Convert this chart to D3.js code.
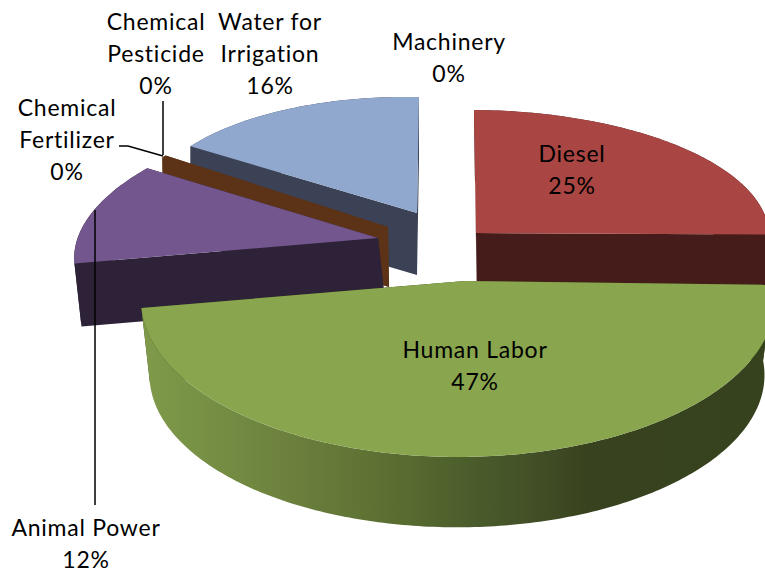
<!DOCTYPE html>
<html>
<head>
<meta charset="utf-8">
<script src="https://cdn.jsdelivr.net/npm/d3@7"></script>
<style>
  html, body { margin: 0; padding: 0; background: #fff; }
  svg { display: block; }
  text { font-family: Lato, "Open Sans", sans-serif; font-size: 23px; letter-spacing: 0.75px; fill: #000; text-anchor: middle; }
</style>
</head>
<body>
<svg id="chart" width="765" height="574"></svg>
<script>
// data, clockwise from 12 o'clock. pesticide is small but has to show its cut face
const categories = ["Diesel", "Human Labor", "Animal Power", "Chemical Fertilizer", "Chemical Pesticide", "Water for Irrigation", "Machinery"];
const values = [25, 47, 12, 0, 0.3, 16, 0];

const labelLines = [["Diesel"], ["Human Labor"], ["Animal Power"], ["Chemical", "Fertilizer"], ["Chemical", "Pesticide"], ["Water for", "Irrigation"], ["Machinery"]];
const labelX = [572, 475, 86, 67, 156, 270, 449];
const labelY = [162, 358, 536, 116, 30, 30, 50];

const topColors = ["#a94542", "#89a54e", "#73568e", "#4198af", "#5c3317", "#91a8ce", "#4f81bd"];
const sideColors = ["#451c19", "#36421e", "#2d2238", "#1f4a55", "#5c3317", "#3b4256", "#263f5c"];

// each slice is pulled out on its own, so every one has its own apex,
// rim centre, north and east radius vectors and a drop for the thickness
const apexes = [[476, 233], [465, 281], [378, 238], [388, 227], [388, 227], [417, 213], [449, 200]];
const centers = [[476, 233], [458, 300], [378, 238], [388, 227], [388, 227], [417, 213], [449, 200]];
const norths = [[-2, -123], [0, -157], [48, -132], [25, -128], [25, -128], [2, -116], [0, -110]];
const easts = [[293, 2], [317, 0], [300, 1], [280, 3], [280, 3], [270, 5], [280, 3]];
const drops = [[1, 72], [-1, 75], [7, 63], [1, 60], [1, 60], [0, 62], [0, 60]];
const tapers = [1, 0.97, 1, 1, 1, 1, 1];
// the front slice's apex sits above its rim centre, so its angles get squeezed
// onto the rim (degrees clockwise from north). null keeps the pie angle
const rimSpans = [null, [84.5, 267.1], null, null, null, null, null];

// leader lines
const leaders = [
  [[163, 101], [163, 155]],
  [[119, 146], [128, 146], [163, 156]],
  [[95, 210], [95, 505]]
];

// back to front
const drawOrder = [6, 5, 4, 3, 2, 0, 1];

const svg = d3.select("#chart");

const pie = d3.pie().sort(null).value(d => d)(values);
const total = d3.sum(values);

const grad = svg.append("defs").append("linearGradient")
  .attr("id", "rimGreen")
  .attr("gradientUnits", "userSpaceOnUse")
  .attr("x1", 142).attr("x2", 765).attr("y1", 0).attr("y2", 0);
[[0, "#7f9b4a"], [0.25, "#6a7f3c"], [0.41, "#5a6d31"], [0.53, "#4a5c2b"], [0.61, "#445228"], [0.72, "#38421e"], [1, "#36421e"]]
  .forEach(s => grad.append("stop").attr("offset", s[0]).attr("stop-color", s[1]));

const line = d3.line();

function rimPoint(i, a) {
  return [
    centers[i][0] + norths[i][0] * Math.cos(a) + easts[i][0] * Math.sin(a),
    centers[i][1] + norths[i][1] * Math.cos(a) + easts[i][1] * Math.sin(a)
  ];
}
function drop(p, i) {
  const c = centers[i];
  return [
    c[0] + drops[i][0] + (p[0] - c[0]) * tapers[i],
    c[1] + drops[i][1] + (p[1] - c[1]) * tapers[i]
  ];
}

function arcPoints(i, a0, a1) {
  const n = Math.max(2, Math.ceil((a1 - a0) * 60));
  return d3.range(n + 1).map(k => rimPoint(i, a0 + (a1 - a0) * k / n));
}

const body = svg.append("g");

drawOrder.forEach(i => {
  const d = pie[i];
  if (d.endAngle - d.startAngle === 0) return;

  const rimAngle = d3.scaleLinear()
    .domain([d.startAngle, d.endAngle])
    .range(rimSpans[i] ? rimSpans[i].map(v => v * Math.PI / 180) : [d.startAngle, d.endAngle]);
  const a0 = rimAngle(d.startAngle), a1 = rimAngle(d.endAngle);
  const arc = arcPoints(i, a0, a1);
  const apex = apexes[i];
  const g = body.append("g").attr("class", "slice");

  // cut faces
  [a0, a1].forEach(a => {
    const r = rimPoint(i, a);
    g.append("path")
      .attr("d", line([apex, r, drop(r, i), drop(apex, i)]) + "Z")
      .attr("fill", sideColors[i]);
  });

  // outer wall
  g.append("path")
    .attr("d", line(arc.concat(arc.slice().reverse().map(p => drop(p, i)))) + "Z")
    .attr("fill", i === 1 ? "url(#rimGreen)" : sideColors[i]);

  // top
  g.append("path")
    .attr("d", line([apex].concat(arc)) + "Z")
    .attr("fill", topColors[i]);
});

svg.append("g").selectAll("path")
  .data(leaders)
  .join("path")
  .attr("d", d => line(d))
  .attr("fill", "none")
  .attr("stroke", "#000")
  .attr("stroke-width", 1.5);

const lineStep = 32;
categories.forEach((c, i) => {
  const t = svg.append("text").attr("x", labelX[i]).attr("y", labelY[i]);
  labelLines[i].concat([Math.round(values[i] / total * 100) + "%"]).forEach((s, k) => {
    t.append("tspan").attr("x", labelX[i]).attr("dy", k ? lineStep : 0).text(s);
  });
});
</script>
</body>
</html>
